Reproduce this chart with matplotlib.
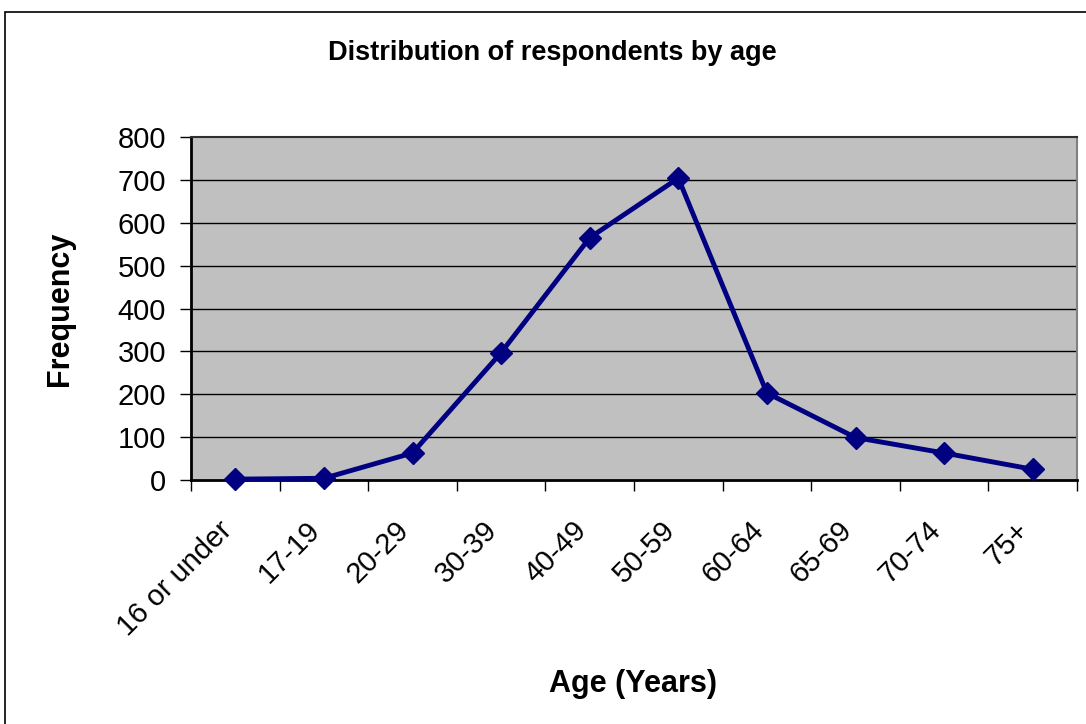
import matplotlib
matplotlib.use("Agg")
import matplotlib.pyplot as plt
from matplotlib.patches import Rectangle
import numpy as np

plt.rcParams['font.family'] = ['Liberation Sans', 'DejaVu Sans']

age_groups = ["16 or under", "17-19", "20-29", "30-39", "40-49",
              "50-59", "60-64", "65-69", "70-74", "75+"]
frequency = [2, 4, 63, 297, 565, 704, 203, 99, 63, 25]
y_ticks = [0, 100, 200, 300, 400, 500, 600, 700, 800]

W, H = 1086, 724
fig = plt.figure(figsize=(W / 100, H / 100), dpi=100)

# chart frame
fig.patches.append(Rectangle((5 / W, -0.1), 1.2, 1 - 12 / H + 0.1,
                             transform=fig.transFigure, fill=False,
                             edgecolor='black', linewidth=1.2))

left, right, top, bottom = 191, 1077, 137, 480
ax = fig.add_axes([left / W, 1 - bottom / H, (right - left) / W, (bottom - top) / H])
ax.set_facecolor('#c0c0c0')

x = np.arange(len(age_groups))
ax.plot(x, frequency, color='#000080', linewidth=3.5, marker='D',
        markersize=11, zorder=3, clip_on=False)

ax.set_xlim(-0.5, len(age_groups) - 0.5)
ax.set_ylim(0, 800)
ax.set_yticks(y_ticks)
ax.set_yticklabels([str(v) for v in y_ticks], fontsize=21)
for v in y_ticks[1:-1]:
    ax.axhline(v, color='black', linewidth=1.0, zorder=1)

# tick marks on the category boundaries; rotated labels end just left of each centre
ax.set_xticks(np.arange(len(age_groups) + 1) - 0.5)
ax.set_xticklabels([])
ax.set_xticks(x - 0.2, minor=True)
ax.set_xticklabels(age_groups, minor=True, fontsize=21, rotation=45,
                   ha='right', va='top', rotation_mode='anchor')
ax.tick_params(axis='x', which='major', direction='out', length=8, width=1, color='black')
ax.tick_params(axis='x', which='minor', length=0, pad=26)
ax.tick_params(axis='y', direction='out', length=8, width=1, pad=10, color='black')

for side in ['left', 'bottom']:
    ax.spines[side].set_linewidth(2)
    ax.spines[side].set_color('black')
ax.spines['top'].set_linewidth(1.5)
ax.spines['top'].set_color('#303030')
ax.spines['right'].set_linewidth(1.5)
ax.spines['right'].set_color('#808080')

fig.text(552 / W, 1 - 53 / H, "Distribution of respondents by age",
         fontsize=19.5, fontweight='bold', ha='center', va='center')
fig.text(60 / W, 1 - 309 / H, "Frequency", fontsize=22, fontweight='bold',
         rotation=90, ha='center', va='center')
fig.text(633 / W, 1 - 684 / H, "Age (Years)", fontsize=22, fontweight='bold',
         ha='center', va='center')

fig.savefig("out.png", dpi=100, facecolor='white')
